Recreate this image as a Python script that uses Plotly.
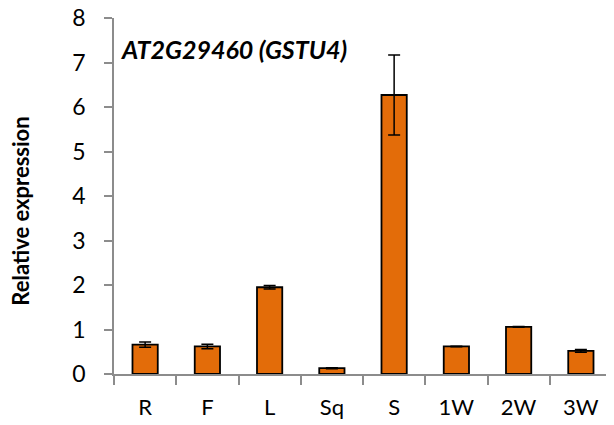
import plotly.graph_objects as go

categories = ["R", "F", "L", "Sq", "S", "1W", "2W", "3W"]
values = [0.66, 0.62, 1.95, 0.13, 6.27, 0.62, 1.06, 0.52]
errors = [0.06, 0.05, 0.04, 0.01, 0.90, 0.005, 0.01, 0.03]
y_ticks = [0, 1, 2, 3, 4, 5, 6, 7, 8]
title_text = "AT2G29460 (GSTU4)"
y_title = "Relative expression"

FONT = "Lato"

fig = go.Figure(
    go.Bar(
        x=categories,
        y=values,
        marker=dict(color="#E36C09", line=dict(color="black", width=1.8)),
        error_y=dict(type="data", array=errors, visible=True,
                     color="black", thickness=1.5, width=6),
    )
)

# page body has an 8px default margin, so the figure is sized to fit the window
fig.update_layout(
    width=606, height=417,
    margin=dict(l=106, r=2, t=10, b=51, autoexpand=False),
    paper_bgcolor="white", plot_bgcolor="white",
    bargap=0.594,
    showlegend=False,
    font=dict(family=FONT, color="black", size=22),
    annotations=[
        dict(text="<b><i>" + title_text + "</i></b>", xref="paper", yref="paper",
             x=0.0, y=0.912, xanchor="left", yanchor="middle", showarrow=False,
             xshift=5,
             font=dict(family=FONT, size=25, color="black")),
        dict(text="<b>" + y_title + "</b>", xref="paper", yref="paper",
             x=0.0, y=0.456, xanchor="center", yanchor="middle", showarrow=False,
             xshift=-93,
             textangle=-90, font=dict(family=FONT, size=22, color="black")),
    ],
)

fig.update_yaxes(
    range=[0, 8], tickvals=y_ticks, showgrid=False, zeroline=False,
    showline=True, linecolor="#8c8c8c", linewidth=1.5, automargin=False,
    ticks="outside", ticklen=8, tickcolor="#8c8c8c", tickwidth=1.5,
    ticklabelstandoff=14, ticklabeloverflow="allow", tickfont=dict(size=23),
)
fig.update_xaxes(
    showgrid=False, showline=True, linecolor="#8c8c8c", linewidth=1.5,
    automargin=False,
    ticks="outside", ticklen=9, tickcolor="#8c8c8c", tickwidth=1.5,
    tickson="boundaries", ticklabelstandoff=13, tickfont=dict(size=22),
)

fig.write_html("out.html")
